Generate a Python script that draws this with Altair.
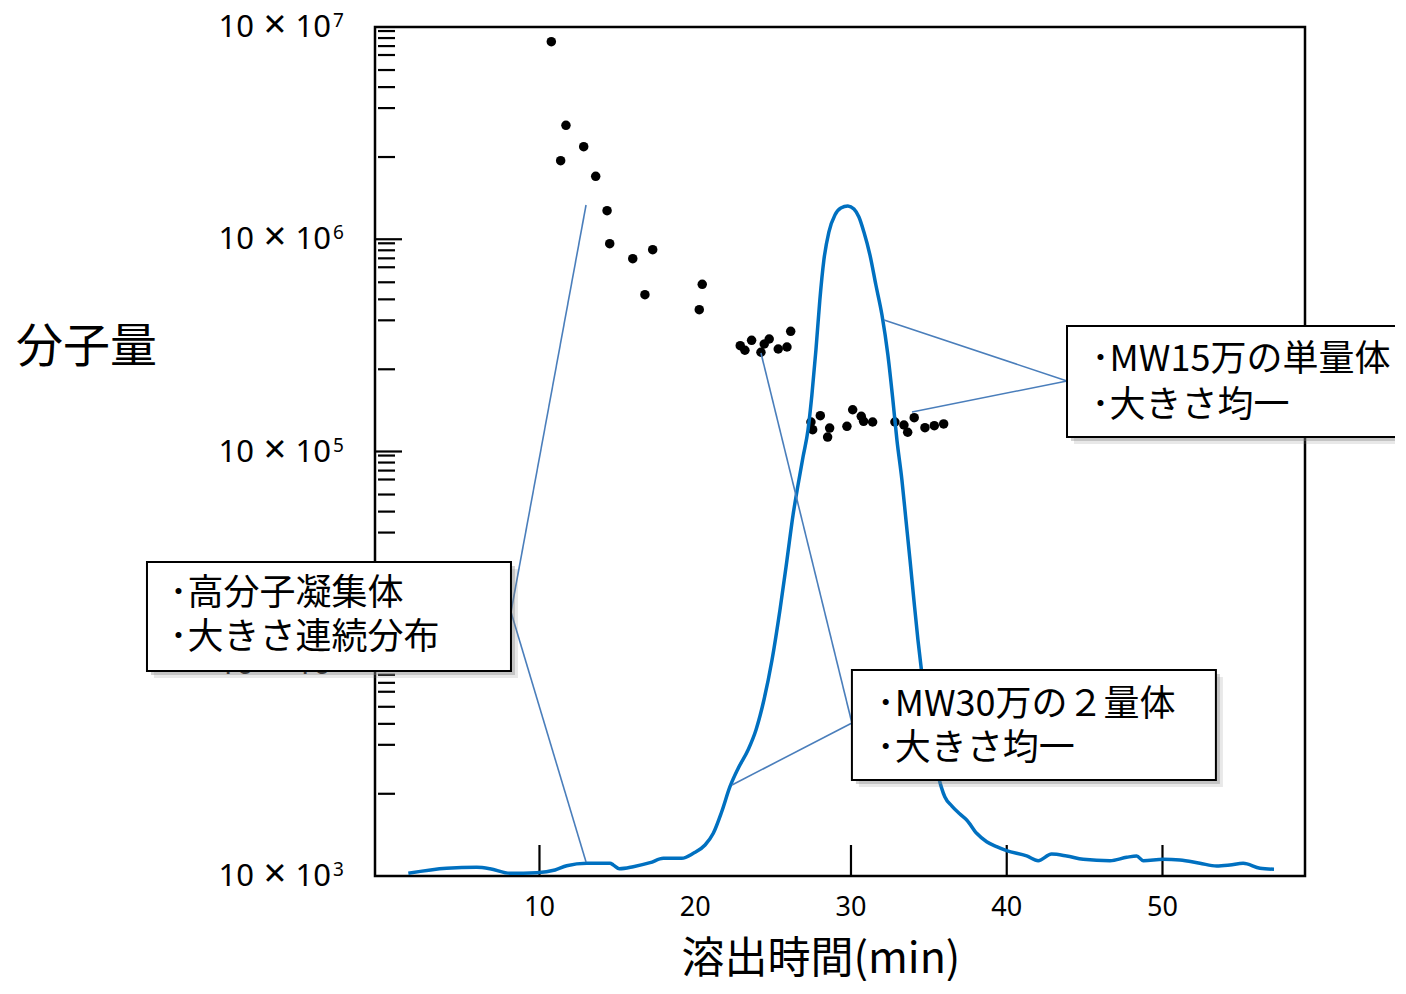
import altair as alt
import pandas as pd

# ---------------- data ----------------
# molecular-weight points (elution time [min], molecular weight)
pt_time = [10.76, 11.70, 12.84, 11.36, 13.61, 14.34, 14.51, 15.99, 17.27, 16.77, 20.45, 20.26,
           22.89, 23.19, 23.62, 24.22, 24.43, 24.75, 25.33, 25.89, 26.13,
           27.43, 27.54, 28.03, 28.63, 28.50, 29.74, 30.11, 30.66, 30.81, 31.39, 32.82,
           33.40, 33.64, 34.06, 34.75, 35.35, 35.95]
pt_mw = [8.525e7, 3.443e7, 2.729e7, 2.345e7, 1.980e7, 1.363e7, 9.53e6, 8.10e6, 8.93e6, 5.48e6, 6.13e6, 4.66e6,
         3.151e6, 3.000e6, 3.342e6, 2.935e6, 3.210e6, 3.388e6, 3.040e6, 3.107e6, 3.684e6,
         1.377e6, 1.267e6, 1.475e6, 1.290e6, 1.170e6, 1.314e6, 1.573e6, 1.465e6, 1.388e6, 1.377e6, 1.377e6,
         1.333e6, 1.232e6, 1.443e6, 1.295e6, 1.323e6, 1.348e6]

# chromatogram (elution time [min], detector signal, arbitrary units)
curve_t = [1.58, 4.04, 5.97, 6.82, 8.11, 9.82, 11.0, 11.75, 13.03, 14.53, 14.74, 15.13, 16.02, 17.10, 17.95,
           19.13, 19.88, 20.63, 21.16, 21.70, 22.23, 22.76, 23.39, 23.90, 24.41, 24.93, 25.44, 25.89, 26.28,
           26.60, 26.92, 27.24, 27.49, 27.75, 28.00, 28.26, 28.58, 28.97, 29.35, 29.80, 30.19, 30.51, 30.83,
           31.22, 31.60, 31.99, 32.37, 32.69, 32.95, 33.27, 33.53, 33.79, 34.04, 34.30, 34.56, 34.81, 35.20,
           35.59, 36.03, 36.48, 36.96, 37.43, 38.07, 38.71, 39.35, 39.99, 41.28, 42.02, 42.88, 43.85, 44.91, 46.63,
           47.70, 48.34, 48.77, 50.05, 51.12, 52.40, 53.48, 54.33, 55.18, 56.26, 57.16]
curve_s = [0.32, 0.91, 1.02, 0.86, 0.32, 0.39, 0.71, 1.21, 1.50, 1.50, 1.30, 0.86, 1.10, 1.57, 2.08,
           2.08, 2.67, 3.65, 5.03, 7.57, 10.52, 12.69, 14.84, 17.20, 20.73, 25.44, 31.33, 37.22, 42.52,
           46.05, 49.35, 52.53, 56.65, 61.96, 67.84, 72.56, 75.85, 77.86, 78.68, 78.92, 78.56, 77.62, 75.85,
           73.14, 69.61, 66.08, 61.37, 56.07, 51.35, 46.64, 41.93, 37.22, 32.51, 27.80, 23.67, 20.14, 15.43,
           11.90, 9.30, 8.24, 7.36, 6.60, 5.03, 4.04, 3.45, 2.98, 2.36, 1.80, 2.59, 2.36, 1.97, 1.80,
           2.20, 2.36, 1.80, 1.97, 1.88, 1.50, 1.18, 1.30, 1.50, 0.91, 0.79]

# axis ticks / labels
x_label_values = [10, 20, 30, 40, 50]
x_tick_values = [10, 30, 40, 50]
x_title = "溶出時間(min)"
x_title_t = 28.07
y_title = "分子量"
y_major_values = [1e4, 1e5, 1e6, 1e7, 1e8]
y_label_mant = ["10", "10", "10", "10", "10"]
y_label_times = ["×", "×", "×", "×", "×"]
y_label_base = ["10", "10", "10", "10", "10"]
y_label_exp = ["3", "4", "5", "6", "7"]
y_minor_mult = [2.44, 4.15, 5.21, 6.27, 7.38, 8.13, 8.87, 9.57]
y_decades = [1e4, 1e5, 1e6, 1e7]

# annotation boxes (time / molecular-weight corners)
box_t1 = [-15.20, 43.87, 30.06]
box_t2 = [8.17, 66.5, 53.43]
box_mw1 = [3.016e5, 3.901e6, 9.345e4]
box_mw2 = [9.243e4, 1.170e6, 2.834e4]

# annotation text lines
txt_lines = ["･高分子凝集体", "･大きさ連続分布", "･MW15万の単量体", "･大きさ均一", "･MW30万の２量体", "･大きさ均一"]
txt_t = [-13.75, -13.75, 45.45, 45.45, 31.65, 31.65]
txt_mw = [2.120e5, 1.322e5, 2.684e6, 1.638e6, 6.427e4, 3.945e4]

# callout leader lines
lead_t1 = [8.17, 8.17, 43.87, 43.87, 30.06, 30.06]
lead_mw1 = [1.753e5, 1.753e5, 2.149e6, 2.149e6, 5.258e4, 5.258e4]
lead_t2 = [12.99, 12.99, 32.12, 33.92, 24.22, 22.36]
lead_mw2 = [1.450e7, 1.164e4, 4.165e6, 1.535e6, 2.912e6, 2.684e4]

# ---------------- scales ----------------
XMIN, XMAX = -0.56, 59.15
YMIN, YMAX = 1e4, 1e8
XS = alt.Scale(domain=[XMIN, XMAX], nice=False, zero=False)


def YS():
    return alt.Scale(type="log", domain=[YMIN, YMAX], nice=False)


FONT_NUM = "Noto Sans"
FONT_JP = "Noto Sans CJK JP"

# ---------------- tables ----------------
points = pd.DataFrame({"t": pt_time, "mw": pt_mw})
curve = pd.DataFrame({"t": curve_t, "s": curve_s})
frame = pd.DataFrame({"t": [XMIN], "t2": [XMAX], "mw": [YMIN], "mw2": [YMAX]})
ymaj = pd.DataFrame({"mw": y_major_values[1:-1]})
ymaj["t"] = XMIN
ymaj["t2"] = 1.175
ymin_rows = [m * d for d in y_decades for m in y_minor_mult]
ymin_df = pd.DataFrame({"mw": ymin_rows})
ymin_df["t"] = -0.366
ymin_df["t2"] = 0.725
xt = pd.DataFrame({"t": x_tick_values})
xt["mw"] = YMIN
xt["mw2"] = 1.4e4
ylab = pd.DataFrame({"mw": y_major_values, "mant": y_label_mant, "times": y_label_times,
                     "base": y_label_base, "exp": y_label_exp})
ylab["t"] = XMIN
xlab = pd.DataFrame({"t": x_label_values, "lab": [str(v) for v in x_label_values]})
xlab["mw"] = YMIN
xtitle = pd.DataFrame({"t": [x_title_t], "mw": [YMIN], "txt": [x_title]})
boxes = pd.DataFrame({"t": box_t1, "t2": box_t2, "mw": box_mw1, "mw2": box_mw2})
texts = pd.DataFrame({"t": txt_t, "mw": txt_mw, "txt": txt_lines})
leads = pd.DataFrame({"t": lead_t1, "mw": lead_mw1, "t2": lead_t2, "mw2": lead_mw2})


def X(field="t:Q"):
    return alt.X(field, scale=XS, axis=None)


def Y(field="mw:Q"):
    return alt.Y(field, scale=YS(), axis=None)


# ---------------- layers ----------------
frame_l = alt.Chart(frame).mark_rect(fillOpacity=0, stroke="black", strokeWidth=2.5).encode(
    x=X(), x2="t2:Q", y=Y(), y2="mw2:Q")

ymaj_l = alt.Chart(ymaj).mark_rule(color="black", strokeWidth=2.2).encode(
    x=X(), x2="t2:Q", y=Y())

ymin_l = alt.Chart(ymin_df).mark_rule(color="black", strokeWidth=2.2).encode(
    x=X(), x2="t2:Q", y=Y())

xt_l = alt.Chart(xt).mark_rule(color="black", strokeWidth=2.2).encode(
    x=X(), y=Y(), y2="mw2:Q")

pts_l = alt.Chart(points).mark_circle(size=90, color="black", opacity=1).encode(
    x=X(),
    y=alt.Y("mw:Q", scale=YS(),
            axis=alt.Axis(title=y_title, labels=False, ticks=False, domain=False, grid=False,
                          titleAngle=0, titleX=-289, titleY=320, titleAlign="center",
                          titleBaseline="middle", titleFont=FONT_JP, titleFontSize=47,
                          titleFontWeight="normal", titleColor="black", orient="left")))

ylab_mant_l = alt.Chart(ylab).mark_text(align="right", baseline="middle", dx=-121, dy=1,
                                        fontSize=31, font=FONT_NUM, color="black").encode(
    x=X(), y=Y(), text="mant:N")

ylab_times_l = alt.Chart(ylab).mark_text(align="center", baseline="middle", dx=-100, dy=-1,
                                         fontSize=40, font=FONT_NUM, color="black").encode(
    x=X(), y=Y(), text="times:N")

ylab_base_l = alt.Chart(ylab).mark_text(align="right", baseline="middle", dx=-44, dy=1,
                                        fontSize=31, font=FONT_NUM, color="black").encode(
    x=X(), y=Y(), text="base:N")

ylab_exp_l = alt.Chart(ylab).mark_text(align="left", baseline="middle", dx=-42, dy=-6,
                                       fontSize=19, font=FONT_NUM, color="black").encode(
    x=X(), y=Y(), text="exp:N")

xlab_l = alt.Chart(xlab).mark_text(align="center", baseline="middle", dy=32,
                                   fontSize=27, font=FONT_NUM, color="black").encode(
    x=X(), y=Y(), text="lab:N")

xtitle_l = alt.Chart(xtitle).mark_text(align="center", baseline="middle", dy=84,
                                       fontSize=43, font=FONT_JP, color="black").encode(
    x=X(), y=Y(), text="txt:N")

curve_l = alt.Chart(curve).mark_line(color="#0070C0", strokeWidth=3.5, interpolate="monotone").encode(
    x=X(),
    y=alt.Y("s:Q", scale=alt.Scale(domain=[0, 100], nice=False, zero=False), axis=None))

lead_l = alt.Chart(leads).mark_rule(color="#4a7ebb", strokeWidth=1.6).encode(
    x=X(), x2="t2:Q", y=Y(), y2="mw2:Q")

shadow2_l = alt.Chart(boxes).mark_rect(color="#808080", opacity=0.18, xOffset=7, yOffset=7,
                                       x2Offset=7, y2Offset=7).encode(
    x=X(), x2="t2:Q", y=Y(), y2="mw2:Q")

shadow1_l = alt.Chart(boxes).mark_rect(color="#808080", opacity=0.35, xOffset=4, yOffset=4,
                                       x2Offset=4, y2Offset=4).encode(
    x=X(), x2="t2:Q", y=Y(), y2="mw2:Q")

box_l = alt.Chart(boxes).mark_rect(fill="white", stroke="black", strokeWidth=2).encode(
    x=X(), x2="t2:Q", y=Y(), y2="mw2:Q")

text_l = alt.Chart(texts).mark_text(align="left", baseline="middle", fontSize=36,
                                    font=FONT_JP, color="black").encode(
    x=X(), y=Y(), text="txt:N")

chart = alt.layer(
    frame_l, ymaj_l, ymin_l, xt_l, pts_l, ylab_mant_l, ylab_times_l, ylab_base_l, ylab_exp_l,
    xlab_l, xtitle_l, curve_l, lead_l, shadow2_l, shadow1_l, box_l, text_l
).resolve_scale(y="independent").properties(
    width=930, height=849,
    padding={"left": 367, "top": 19, "right": 90, "bottom": 105},
    autosize=alt.AutoSizeParams(type="none"),
    background="white",
).configure_view(stroke=None)

chart.save("out.html", embed_options={"renderer": "svg", "actions": False})
